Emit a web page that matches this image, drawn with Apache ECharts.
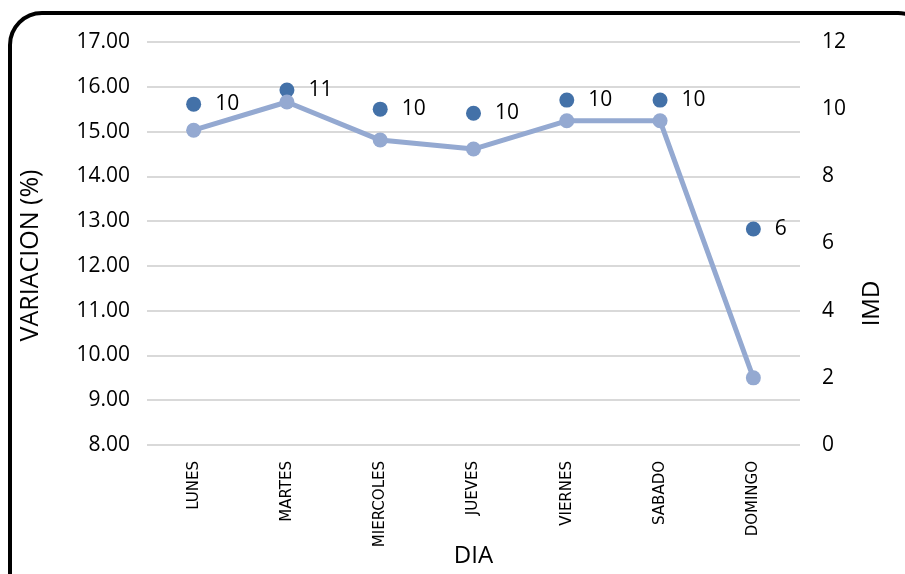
<!DOCTYPE html>
<html>
<head>
<meta charset="utf-8">
<script src="https://cdn.jsdelivr.net/npm/echarts@6/dist/echarts.min.js"></script>
<style>
  html, body { margin: 0; padding: 0; background: #fff; }
  #chart { width: 905px; height: 574px; }
</style>
</head>
<body>
<div id="chart"></div>
<script>
// datos
const dias = ['LUNES', 'MARTES', 'MIERCOLES', 'JUEVES', 'VIERNES', 'SABADO', 'DOMINGO'];
const variacion = [15.03, 15.66, 14.81, 14.61, 15.24, 15.24, 9.50];
const imd = [10.15, 10.57, 10.0, 9.88, 10.27, 10.27, 6.43];

const font = 'Open Sans';
const chart = echarts.init(document.getElementById('chart'));

chart.setOption({
    animation: false,
    graphic: [{
        type: 'rect',
        shape: { x: 10, y: 13, width: 920, height: 600, r: 32 },
        style: { fill: 'none', stroke: '#000', lineWidth: 4 },
        z: 100
    }],
    grid: { left: 147, right: 105, top: 42, bottom: 129, outerBoundsMode: 'none' },
    xAxis: {
        type: 'category',
        data: dias,
        name: 'DIA',
        nameLocation: 'middle',
        nameGap: 99,
        nameMoveOverlap: false,
        nameTextStyle: { fontFamily: font, fontSize: 24, color: '#000' },
        axisLine: { show: false },
        axisTick: { show: false },
        axisLabel: { rotate: 90, fontFamily: 'DejaVu Sans', fontSize: 15, color: '#000', margin: 16 }
    },
    yAxis: [{
        type: 'value',
        min: 8, max: 17, interval: 1,
        name: 'VARIACION (%)',
        nameLocation: 'middle',
        nameGap: 104,
        nameTextStyle: { fontFamily: font, fontSize: 25, color: '#000', padding: [0, 24, 0, 0] },
        axisLine: { show: false },
        axisTick: { show: false },
        axisLabel: { formatter: v => v.toFixed(2), fontFamily: font, fontSize: 21, color: '#000', margin: 17 },
        splitLine: { lineStyle: { color: '#d9d9d9', width: 2 } }
    }, {
        type: 'value',
        min: 0, max: 12, interval: 2,
        name: 'IMD',
        nameLocation: 'middle',
        nameGap: 60,
        nameRotate: 90,
        nameTextStyle: { fontFamily: font, fontSize: 24, color: '#000', padding: [0, 120, 0, 0] },
        axisLine: { show: false },
        axisTick: { show: false },
        axisLabel: { fontFamily: font, fontSize: 21, color: '#000', margin: 22 },
        splitLine: { show: false }
    }],
    series: [{
        name: 'VARIACION',
        type: 'line',
        data: variacion,
        yAxisIndex: 0,
        symbol: 'circle',
        symbolSize: 15,
        lineStyle: { color: '#94a9d1', width: 5 },
        itemStyle: { color: '#94a9d1' }
    }, {
        name: 'IMD',
        type: 'scatter',
        data: imd,
        yAxisIndex: 1,
        symbolSize: 15,
        itemStyle: { color: '#4371a8', opacity: 1 },
        label: {
            show: true,
            position: 'right',
            distance: 14,
            formatter: p => Math.round(p.value),
            fontFamily: font,
            fontSize: 21,
            color: '#000'
        }
    }]
});
</script>
</body>
</html>
